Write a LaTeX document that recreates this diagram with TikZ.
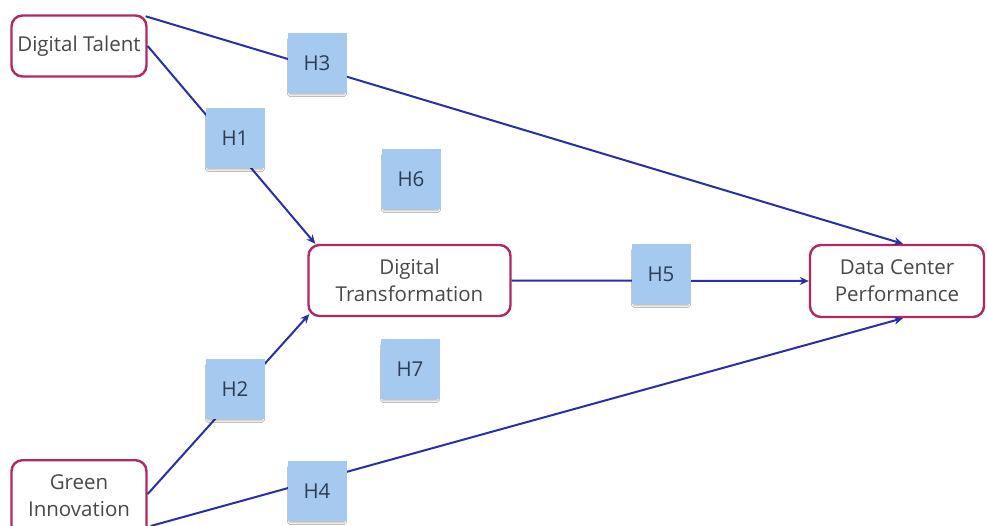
\documentclass[tikz,border=0pt]{standalone}
\usepackage{fontspec}
\setmainfont{Open Sans}
\usetikzlibrary{arrows.meta,calc,shadows.blur}
\definecolor{linkblue}{RGB}{38,48,170}
\definecolor{boxpink}{RGB}{178,40,100}
\definecolor{noteblue}{RGB}{166,201,240}
\definecolor{txtgrey}{RGB}{72,72,72}
\definecolor{notetxt}{RGB}{45,60,85}
\tikzset{
  concept/.style={draw=boxpink, line width=2.4pt, rounded corners=11pt, fill=white,
    text=txtgrey, font=\fontsize{20.5}{27}\selectfont, align=center, inner sep=0pt},
  hnote/.style={fill=noteblue, minimum width=59pt, minimum height=60pt, inner sep=0pt,
    text=notetxt, font=\fontsize{20.5}{24}\selectfont,
    blur shadow={shadow xshift=0pt, shadow yshift=-4pt, shadow blur steps=6,
      shadow blur radius=2pt, shadow opacity=30, shadow scale=0.93}},
  link/.style={draw=linkblue, line width=2pt},
  linkarrow/.style={link, -{Stealth[length=9pt,width=8pt]}}
}
\begin{document}
\begin{tikzpicture}[x=1pt,y=-1pt]
\useasboundingbox (0,0) rectangle (987,526);
\clip (0,0) rectangle (987,526);
\fill[white] (0,0) rectangle (987,526);
% concept boxes
\node[concept, minimum width=135pt, minimum height=61pt] (dt) at (79,46) {Digital Talent};
\node[concept, minimum width=202pt, minimum height=71pt] (dtr) at (409.5,280.5) {Digital\\Transformation};
\node[concept, minimum width=174pt, minimum height=72pt] (dcp) at (897,281) {Data Center\\Performance};
\node[concept, minimum width=135pt, minimum height=80pt, anchor=north] (gi) at (79,459) {};
\node[text=txtgrey, font=\fontsize{20.5}{27}\selectfont, align=center] (gitext) at (79,496) {Green\\Innovation};
% connectors
\coordinate (dtcorner) at ($(dt.north east)+(-2,2)$);
\coordinate (dcptop) at ($(dcp.north)+(6,0)$);
\coordinate (dcpbot) at ($(dcp.south)+(6,0)$);
\coordinate (dtrtop) at ($(dtr.north west)+(8,0)$);
\coordinate (dtrbot) at ($(dtr.south west)+(2,-3)$);
\coordinate (gicorner) at ($(gi.north east)+(3,67)$);
\coordinate (giright) at ($(gi.north east)+(0,35)$);
\draw[linkarrow] (dtcorner) -- (dcptop);
\draw[linkarrow] (dt.east) -- (dtrtop);
\draw[linkarrow] (giright) -- (dtrbot);
\draw[linkarrow] (gicorner) -- (dcpbot);
\draw[linkarrow] (dtr.east) -- (dcp.west);
% hypothesis notes
\node[hnote] (h3) at (317,63) {H3};
\node[hnote] (h1) at (235,138) {H1};
\node[hnote] (h6) at (411,179) {H6};
\node[hnote] (h5) at (661,274) {H5};
\node[hnote] (h7) at (410,369) {H7};
\node[hnote] (h2) at (235,389) {H2};
\node[hnote] (h4) at (317,491) {H4};
\end{tikzpicture}
\end{document}
